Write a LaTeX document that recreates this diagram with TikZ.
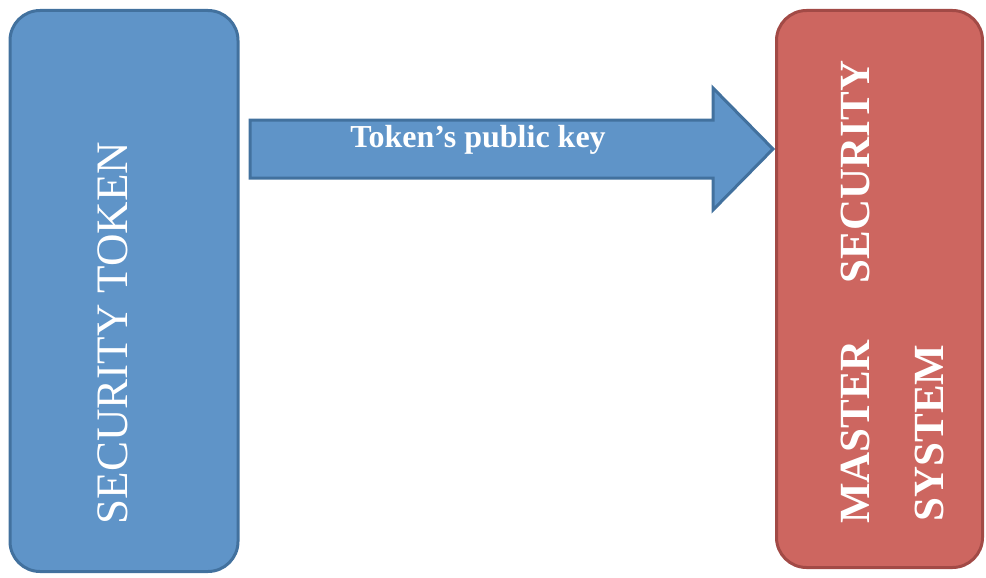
\documentclass[tikz,border=0pt]{standalone}
\usepackage{fontspec}
\setmainfont{Liberation Serif}
\begin{document}
\begin{tikzpicture}[x=1pt,y=-1pt,
  bluefill/.style={fill={rgb,255:red,95;green,148;blue,200}, draw={rgb,255:red,66;green,113;blue,158}},
  redfill/.style={fill={rgb,255:red,205;green,102;blue,96}, draw={rgb,255:red,162;green,74;blue,70}},
  panel/.style={rounded corners=30pt, line width=3pt, inner sep=0pt},
  vtext/.style={rotate=90, text=white, inner sep=0pt}]
\useasboundingbox (0,0) rectangle (986,578);

% left panel: the token
\node[panel, bluefill, minimum width=228pt, minimum height=561pt] (token) at (124,291) {};
\node[vtext, font=\fontsize{45}{50}\selectfont] (tokenlbl) at (113,333) {SECURITY TOKEN};

% right panel: the master system
\node[panel, redfill, minimum width=206pt, minimum height=557pt] (master) at (879.5,289) {};
\node[vtext, font=\bfseries\fontsize{43}{48}\selectfont] (sec) at (855,172) {SECURITY};
\node[vtext, font=\bfseries\fontsize{43}{48}\selectfont] (mst) at (855,432) {MASTER};
\node[vtext, font=\bfseries\fontsize{43}{48}\selectfont] (sys) at (929,433) {SYSTEM};

% block arrow carrying the public key
\coordinate (tail) at (250,149);
\coordinate (tip) at (773,149);
\draw[bluefill, line width=3pt, line join=miter]
  (tail) ++(0,-29) -- (713,120) -- (713,88) -- (tip) -- (713,210) -- (713,178) -- (250,178) -- cycle;
\node[text=white, font=\bfseries\fontsize{32}{36}\selectfont, inner sep=0pt] (keylbl) at (478,140) {Token’s public key};
\end{tikzpicture}
\end{document}
